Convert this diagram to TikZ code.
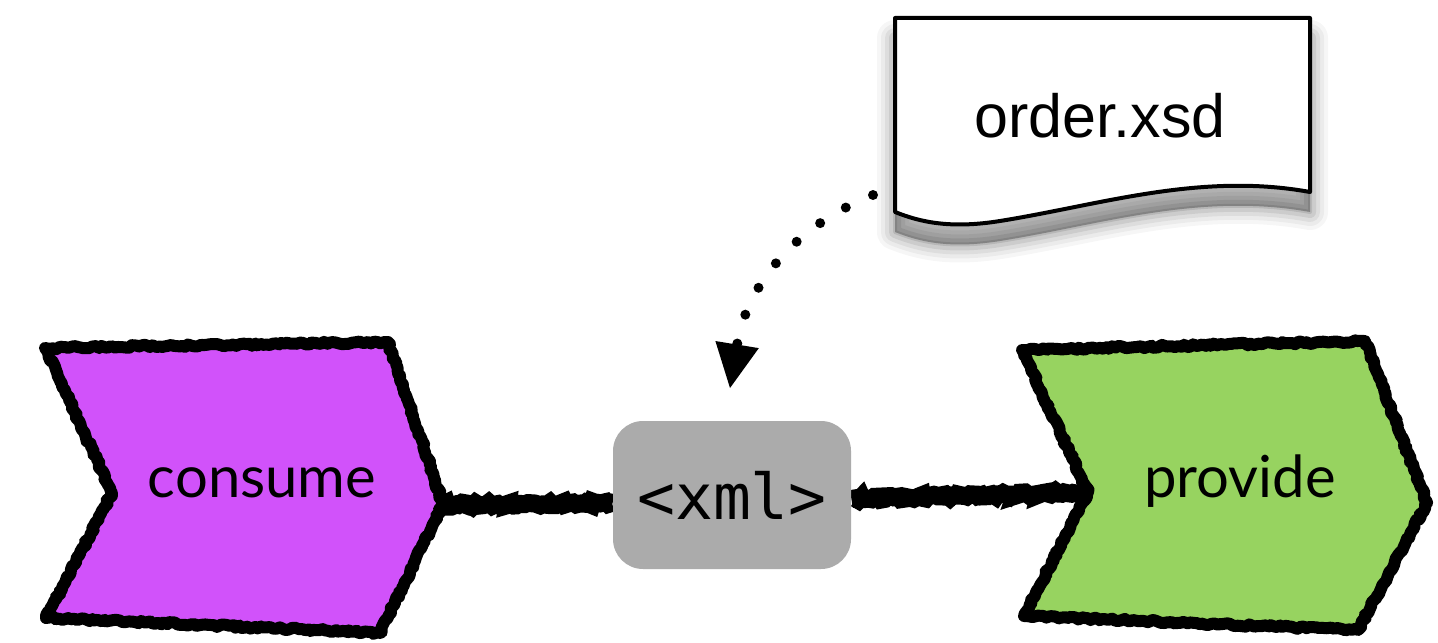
\documentclass[tikz,border=0pt]{standalone}
\usepackage{fontspec}
\newfontfamily\chevfont{Lato}
\newfontfamily\docfont{Liberation Sans}
\newfontfamily\xmlfont{DejaVu Sans Mono}
\usetikzlibrary{decorations.pathmorphing,arrows.meta}
\definecolor{consumefill}{HTML}{D152FA}
\definecolor{providefill}{HTML}{97D360}
\definecolor{xmlfill}{HTML}{ABABAB}
\pgfdeclarelayer{background}
\pgfsetlayers{background,main}
\begin{document}
\begin{tikzpicture}[x=0.5pt,y=-0.5pt,
  chev/.style={line width=6pt, line join=round, decorate,
    decoration={random steps,segment length=1.5pt,amplitude=0.7pt}},
  wire/.style={line width=9pt, decorate,
    decoration={random steps,segment length=1.5pt,amplitude=0.9pt}},
  chevtext/.style={font=\chevfont\fontsize{29}{31}\selectfont, anchor=base},
  xmlbox/.style={fill=xmlfill, rounded corners=15pt, minimum width=119pt,
    minimum height=74pt, inner sep=0pt, font=\xmlfont\fontsize{31.5}{33}\selectfont},
  doctext/.style={font=\docfont\fontsize{30.5}{32}\selectfont, anchor=base},
  dotlink/.style={line width=5pt, line cap=round, dash pattern=on 0pt off 15pt,
    -{Triangle[length=22pt,width=22pt,line width=0pt]}}]
\useasboundingbox (0,0) rectangle (1438,642);
\def\docpath{(895,18) -- (1310,18) -- (1310,192) .. controls (1200,172) and (1100,205) .. (1000,221) .. controls (950,229) and (920,222) .. (895,212) -- cycle}
% document shadow (soft, mostly below)
\foreach \w/\o in {36/0.035,28/0.045,20/0.06,12/0.08,4/0.1}{
  \filldraw[black, opacity=\o, line width=\w*0.5pt, line join=round, shift={(0,20)}] \docpath;
}
\filldraw[fill=white, draw=black, line width=2pt, line join=round] \docpath;
\node[doctext] (doc) at (1100,137) {order.xsd};
% consume chevron
\filldraw[chev, fill=consumefill] (45,348) -- (388,342) -- (443,504) -- (380,633) -- (46,618) -- (112,493) -- cycle;
\coordinate (consumetip) at (443,505);
\node[chevtext] (consume) at (262,497) {consume};
% provide chevron
\filldraw[chev, fill=providefill] (1022,350) -- (1365,341) -- (1427,503) -- (1358,630) -- (1024,616) -- (1088,492) -- cycle;
\coordinate (providenotch) at (1088,492);
\node[chevtext] (provide) at (1240,497) {provide};
% xml box
\node[xmlbox] (xml) at (732,495) {<xml>};
% connectors
\begin{pgfonlayer}{background}
\draw[wire] (consumetip) -- ([yshift=-4pt]xml.west);
\draw[wire] ([yshift=-2pt]xml.east) -- (providenotch);
\end{pgfonlayer}
\coordinate (docout) at (873,195);
\coordinate (xmlin) at (730,388);
\draw[dotlink] (docout) .. controls (790,228) and (746,290) .. (xmlin);
\end{tikzpicture}
\end{document}
